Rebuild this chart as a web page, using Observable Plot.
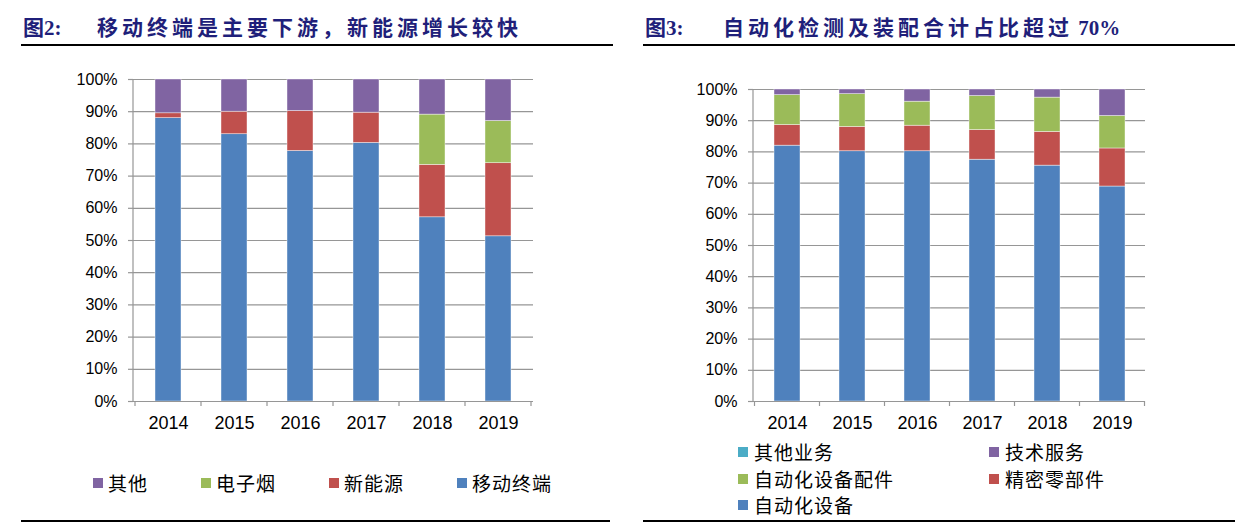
<!DOCTYPE html>
<html><head><meta charset="utf-8">
<script src="https://cdn.jsdelivr.net/npm/d3@7"></script>
<script src="https://cdn.jsdelivr.net/npm/@observablehq/plot@0.6"></script>
<style>
html,body{margin:0;padding:0;background:#fff;}
body{width:1235px;height:528px;position:relative;overflow:hidden;font-family:"Liberation Sans",Arial,sans-serif;}
.title{position:absolute;top:14px;font-family:"Liberation Serif","Noto Sans CJK SC",serif;font-weight:700;font-size:21px;color:#1f1f7a;line-height:28px;white-space:nowrap}
.rule{position:absolute;height:2px;background:#000}
.chart{position:absolute;top:0}
.legend{position:absolute;font-family:"Noto Sans CJK SC",sans-serif;font-size:19px;color:#000;letter-spacing:1px;line-height:26px}
.item{display:flex;align-items:center;white-space:nowrap}
.sw{width:10px;height:10px;flex:none}
</style></head><body>
<div class="title" style="left:23px">图2:</div>
<div class="title" style="left:97px;letter-spacing:4px">移动终端是主要下游，新能源增长较快</div>
<div class="title" style="left:645px">图3:</div>
<div class="title" style="left:723px;letter-spacing:4px">自动化检测及装配合计占比超过<span style="letter-spacing:0"> 70%</span></div>
<div class="rule" style="left:21px;width:592px;top:44px"></div>
<div class="rule" style="left:643px;width:592px;top:44px"></div>
<div class="rule" style="left:21px;width:589px;top:520px"></div>
<div class="rule" style="left:643px;width:592px;top:520px"></div>
<div id="c1" class="chart" style="left:0px"></div>
<div id="c2" class="chart" style="left:620px"></div>
<div id="l1" class="legend" style="left:93px;top:470px;display:flex;gap:53px"></div>
<div id="l2" class="legend" style="left:738px;top:439px;display:grid;grid-template-columns:251px 200px;grid-auto-rows:26.5px"></div>
<script>
// ---- Data ----
const years = ["2014", "2015", "2016", "2017", "2018", "2019"];

// Chart 1 (图2): downstream share, bottom -> top
const series1 = ["移动终端", "新能源", "电子烟", "其他"];
const colors1 = ["#4f81bd", "#c0504d", "#9bbb59", "#8064a2"];
const mobile = [88.0, 83.0, 77.8, 80.3, 57.2, 51.3];
const newEnergy = [1.5, 7.0, 12.4, 9.4, 16.3, 22.7];
const ecig = [0, 0, 0, 0, 15.6, 13.1];
const other1 = [10.5, 10.0, 9.8, 10.3, 10.9, 12.9];
const legend1 = ["其他", "电子烟", "新能源", "移动终端"];

// Chart 2 (图3): revenue share, bottom -> top
const series2 = ["自动化设备", "精密零部件", "自动化设备配件", "技术服务", "其他业务"];
const colors2 = ["#4f81bd", "#c0504d", "#9bbb59", "#8064a2", "#4bacc6"];
const autoEquip = [82.0, 80.2, 80.2, 77.5, 75.6, 68.9];
const precision = [6.6, 7.8, 8.2, 9.5, 10.8, 12.2];
const accessories = [9.6, 10.5, 7.7, 10.9, 11.0, 10.4];
const techService = [1.8, 1.5, 3.9, 2.1, 2.6, 8.5];
const otherBiz = [0, 0, 0, 0, 0, 0];
const legend2 = ["其他业务", "技术服务", "自动化设备配件", "精密零部件", "自动化设备"];

const yTicks = [0, 0.1, 0.2, 0.3, 0.4, 0.5, 0.6, 0.7, 0.8, 0.9, 1];

function makeChart({series, values, colors, width, height, marginLeft, marginRight, marginTop, marginBottom, padInner}) {
  const data = [];
  series.forEach((s, si) => years.forEach((yr, yi) => {
    if (values[si][yi] > 0) data.push({year: yr, series: s, value: values[si][yi] / 100});
  }));
  const gridColor = "#969696";
  const frameMarks = (index, scales, vals, dims) => {
    const x = scales.x;
    const g = d3.create("svg:g").attr("stroke", gridColor).attr("stroke-width", 1.2);
    const yb = dims.height - dims.marginBottom;
    g.append("line").attr("x1", dims.marginLeft).attr("x2", dims.marginLeft)
      .attr("y1", dims.marginTop).attr("y2", yb);
    const step = typeof x.step === "function" ? x.step() : (dims.width - dims.marginLeft - dims.marginRight) / years.length;
    const bw = typeof x.bandwidth === "function" ? x.bandwidth() : 0;
    const bounds = years.map(yr => x(yr) - (step - bw) / 2);
    bounds.push(x(years[years.length - 1]) - (step - bw) / 2 + step);
    for (const b of bounds) {
      g.append("line").attr("x1", b).attr("x2", b).attr("y1", yb).attr("y2", yb + 5);
    }
    return g.node();
  };
  return Plot.plot({
    width, height, marginLeft, marginRight, marginTop, marginBottom,
    style: {fontFamily: "'Liberation Sans', Arial, sans-serif", background: "transparent", overflow: "visible"},
    x: {domain: years, paddingInner: padInner, paddingOuter: padInner / 2, label: null},
    y: {domain: [0, 1], label: null},
    color: {domain: series, range: colors},
    marks: [
      Plot.gridY({ticks: yTicks, stroke: gridColor, strokeOpacity: 1, strokeWidth: 1.2}),
      Plot.axisY({ticks: yTicks, tickFormat: d3.format(".0%"), tickSize: 5, tickPadding: 11,
        stroke: gridColor, strokeWidth: 1.2, fill: "#000", fontSize: 16, label: null}),
      Plot.barY(data, {x: "year", y: "value", fill: "series", stroke: "#fff", strokeWidth: 0.6, strokeOpacity: 0.7}),
      Plot.ruleY([0], {stroke: gridColor, strokeWidth: 1.2}),
      Plot.axisX({tickSize: 0, tickPadding: 15, fontSize: 18, fill: "#000", label: null}),
      frameMarks
    ]
  });
}

document.getElementById("c1").append(makeChart({
  series: series1, values: [mobile, newEnergy, ecig, other1], colors: colors1,
  width: 620, height: 440, marginLeft: 133, marginRight: 87, marginTop: 79, marginBottom: 39, padInner: 0.61
}));
document.getElementById("c2").append(makeChart({
  series: series2, values: [autoEquip, precision, accessories, techService, otherBiz], colors: colors2,
  width: 615, height: 440, marginLeft: 133, marginRight: 90, marginTop: 89, marginBottom: 39, padInner: 0.6
}));

function legend(el, names, series, colors, gap) {
  for (const n of names) {
    const it = document.createElement("div");
    it.className = "item";
    const sw = document.createElement("span");
    sw.className = "sw";
    sw.style.background = colors[series.indexOf(n)];
    sw.style.marginRight = gap + "px";
    const tx = document.createElement("span");
    tx.textContent = n;
    it.append(sw, tx);
    el.append(it);
  }
}
legend(document.getElementById("l1"), legend1, series1, colors1, 5);
legend(document.getElementById("l2"), legend2, series2, colors2, 6);
</script>
</body></html>
